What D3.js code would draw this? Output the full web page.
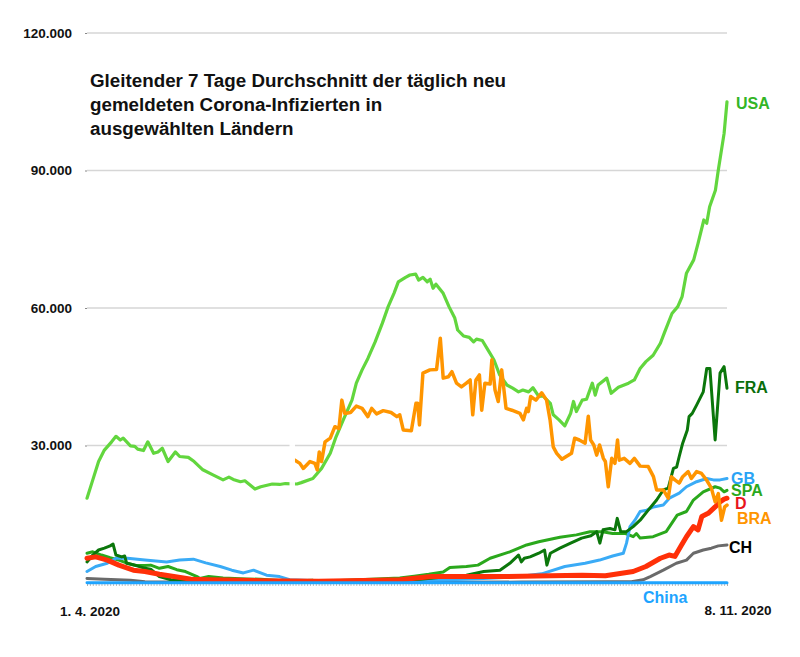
<!DOCTYPE html>
<html><head><meta charset="utf-8">
<script src="https://cdn.jsdelivr.net/npm/d3@7"></script>
<style>
html,body{margin:0;padding:0;background:#fff;}
svg{display:block;font-family:"Liberation Sans",Arial,Helvetica,sans-serif;}
</style></head>
<body><svg id="c" width="800" height="657"></svg>
<script>
// ---- data (day index from 1. 4. 2020, value) ----
const startLabel = "1. 4. 2020";
const endLabel = "8. 11. 2020";
const dayCount = 221;
const yTicks = [30000, 60000, 90000, 120000];
const yTickLabels = ["30.000", "60.000", "90.000", "120.000"];
const titleLines = ["Gleitender 7 Tage Durchschnitt der täglich neu", "gemeldeten Corona-Infizierten in", "ausgewählten Ländern"];

const usa = [[0,18500],[2,22500],[4,26500],[6,29000],[8.5,30800],[10,32000],[11.5,31200],[12.5,31600],[15,29900],[16.5,29800],[17.5,29200],[19.5,28900],[21,30800],[23,28300],[24.5,28600],[26,29400],[28,26500],[30.5,28600],[32,27600],[35,27400],[37,26500],[40,24700],[43.5,23600],[47,22500],[49,23100],[50.5,22600],[53,22100],[54.5,22300],[58,20500],[60,21000],[64,21600],[66.5,21500],[68.5,21700],[72.5,21600],[74,21900],[77,22600],[78,22800],[81,25000],[84,28300],[86,31900],[88.5,35600],[91.5,39900],[93,43600],[95,46500],[97,49000],[99.5,52600],[102,56700],[104,60300],[106,63200],[107.5,65700],[110,66700],[111.5,67200],[113.5,67400],[114.5,66100],[116,66700],[117.5,65700],[118.5,66300],[119.5,64300],[120.5,65200],[123,63200],[125,60300],[127,57800],[128,55200],[130,53900],[132,53600],[133.5,52600],[134.5,53200],[136.5,52900],[138.5,50800],[140.5,48700],[142.5,45400],[145,43200],[147,42500],[149,41700],[150.5,42100],[152.5,41700],[154,42600],[156,40700],[157.5,40800],[160,39200],[161,36700],[163,35600],[165,34300],[167,37000],[168,39600],[169,37400],[171,39900],[172.5,40100],[174.5,43600],[175.5,41000],[176.5,43200],[179.5,44700],[181,41400],[183.5,42700],[187,43600],[189,44300],[191,46800],[193,48300],[195.5,49700],[198,52300],[199.5,54800],[202,58800],[204,60300],[205.5,62500],[207,67600],[209.5,70500],[211,74100],[213,79200],[214,78500],[215,82100],[217,85700],[218,90100],[220,98100],[221,105000]];

const bra = [[71.8,26800],[73.5,26100],[74.7,25000],[77,26500],[78.7,26100],[79.5,24700],[80.2,28600],[81,26500],[82.2,30800],[84,31600],[85.6,34100],[87,33700],[88,39900],[89,37000],[91,37200],[93,38600],[95,38100],[97,36300],[98.3,38100],[100,36900],[102.3,37600],[105,37200],[107,36300],[108,36700],[109.2,33400],[112,33200],[113.6,39200],[114.2,39200],[114.8,34500],[116,45800],[118.4,46500],[120.7,46600],[122,53400],[123,44700],[124.8,45000],[126,46100],[127.6,43600],[129.3,42800],[131,43600],[132.3,44300],[133.2,36700],[134.3,44300],[135.5,45400],[136.3,37700],[137.4,43600],[139.2,43400],[139.8,48700],[140.9,42100],[142,39600],[143.2,46500],[144.7,38100],[146.7,37700],[149.5,37000],[150.7,35600],[151.8,38100],[152.4,37400],[153.2,40700],[155,39900],[157,41500],[158.7,39900],[159.9,35600],[161,29700],[162.2,28300],[164,27000],[165.5,27600],[167.3,28300],[168.4,31600],[170,31200],[172,30500],[173.1,36400],[173.9,31200],[175,30100],[176,27900],[177,30100],[178.3,27200],[179,26500],[180,21000],[181.2,27200],[182.3,26100],[183.2,31200],[183.8,26800],[185.5,27200],[187.5,26100],[189,27200],[191,25500],[193.8,25400],[195.6,23200],[196.7,20300],[199,20300],[200.7,18500],[201.8,23200],[203,22500],[204.5,21800],[205.7,23200],[207.6,24300],[208.7,22800],[210.5,24300],[212.2,23900],[213.9,22500],[215.6,20700],[216.9,17700],[218,19500],[219.1,13700],[220.2,16600],[221,17000]];

const fra = [[0,4600],[2,6100],[4,7200],[6,7600],[8,8100],[9,8500],[10,6100],[12,5700],[13,5900],[13.7,4300],[17,3800],[20,3200],[22,3000],[25,1400],[29,700],[35,600],[45,500],[60,500],[70,400],[78,600],[79,300],[90,400],[105,500],[115,800],[125,1400],[131,1700],[137,2500],[142.6,2800],[146,4300],[149,6100],[150,4600],[151,5400],[153,5700],[156,6500],[158,7200],[158.8,3900],[160,6500],[163.3,7600],[167,8700],[170.8,9800],[174,10300],[176,11200],[177.1,8700],[178.2,11600],[180.6,11900],[182.3,11600],[183.1,14100],[184.3,11200],[186.3,11200],[188.6,12300],[191,13700],[193.8,15900],[196.7,18100],[199,20300],[200.7,20700],[202.5,25000],[203.6,25300],[204.5,27600],[205.7,30500],[207.3,33400],[207.9,36300],[209,37000],[210.5,38800],[212.8,41700],[214,46800],[215.1,46800],[216.9,31200],[218.6,45800],[220,47200],[221,42500]];

const spa = [[0,6500],[2,6800],[5,6100],[8,5500],[11,5000],[14,4300],[17,3800],[20,3800],[22,3900],[25,3200],[28,3600],[31,2900],[34,2500],[38,1400],[39,1000],[42,1400],[47,1100],[55,900],[60,800],[70,400],[80,400],[90,600],[100,900],[108,1100],[113,1500],[118,1900],[123,2400],[125.3,3400],[131,3600],[135,3900],[139.2,5400],[146,6800],[151.8,8300],[156,9000],[163.3,10000],[169,10500],[173.7,11200],[178,11200],[181.5,10800],[186,10800],[188.6,10100],[189.7,10800],[191,9800],[195.5,10100],[200,11200],[203.8,14800],[207,15600],[209.4,18100],[212.8,19900],[216.9,21000],[218.6,20700],[220,19900],[221,20200]];

const deu = [[0,5400],[3,5700],[7,5000],[11,3900],[16,2800],[20,2500],[25,1900],[30,1400],[36,800],[42,700],[60,500],[80,400],[100,600],[108,700],[119,1400],[142,1400],[160,1600],[171,1700],[179,1600],[188.6,2500],[193,3600],[198,5400],[201,6100],[203,5800],[205.3,8300],[207,10100],[209.4,12300],[211,11600],[212.3,14500],[214.5,15200],[216.9,16600],[218.6,17700],[220,18300],[221,18500]];

const gbr = [[0,2500],[3,3600],[7,4300],[10,5400],[14,5400],[20,5000],[27.5,4600],[32,5000],[36.7,5200],[41,4400],[46,3600],[50,2800],[54,2200],[57.5,2800],[62,1700],[66.5,1400],[70,700],[80,500],[100,500],[120,600],[135,900],[144,1200],[150,1500],[157,2000],[165,3600],[172,4300],[177,5000],[181.5,5900],[185.2,6500],[186.3,8700],[187.5,12300],[189.2,13700],[191,15600],[193.3,15900],[195.6,16600],[199,17000],[201.1,18500],[204.5,19600],[207,21000],[210.5,22100],[214,22800],[216.3,22500],[218.6,22500],[221,22800]];

const che = [[0,1000],[6,800],[15,600],[20,300],[30,200],[60,100],[100,100],[150,200],[180,300],[188,300],[192,700],[194.5,1400],[199,2800],[203.5,4300],[207,5000],[209.4,6500],[212.8,7200],[215.6,7600],[218,8100],[221,8300]];

const chn = [[0,80],[40,60],[100,40],[160,60],[221,50]];

// ---- series styling ----
const series = [
  {name:"CH",   data:che, color:"#6a6a6a", width:3},
  {name:"SPA",  data:spa, color:"#2aa81c", width:3},
  {name:"GB",   data:gbr, color:"#3aabf6", width:3},
  {name:"FRA",  data:fra, color:"#0b770b", width:3},
  {name:"D",    data:deu, color:"#ff3008", width:5},
  {name:"USA",  data:usa, color:"#62d63e", width:3.2},
  {name:"BRA",  data:bra, color:"#ff9500", width:3.5},
  {name:"China",data:chn, color:"#1ea4ff", width:3}
];
const labels = [
  {name:"USA",  color:"#33b526", x:736, y:103},
  {name:"FRA",  color:"#0a6e0a", x:735, y:387},
  {name:"GB",   color:"#2aa3f5", x:731, y:478},
  {name:"SPA",  color:"#2aa81c", x:731, y:490.5},
  {name:"D",    color:"#e8141a", x:735, y:503},
  {name:"BRA",  color:"#ff9500", x:737, y:518},
  {name:"CH",   color:"#000000", x:729, y:547.5},
  {name:"China",color:"#1ea4ff", x:643, y:597}
];

// ---- layout ----
const svg = d3.select("#c");
const m = {left:87, right:727, top:33, bottom:583};
const x = d3.scaleLinear().domain([0, dayCount]).range([m.left, m.right]);
const y = d3.scaleLinear().domain([0, 120000]).range([m.bottom, m.top]);

// grid
svg.append("g").selectAll("line").data(yTicks).join("line")
  .attr("x1", m.left).attr("x2", m.right)
  .attr("y1", d => y(d)).attr("y2", d => y(d))
  .attr("stroke", "#d6d6d6").attr("stroke-width", 1.5);

// y axis labels
const ya = svg.append("g").attr("transform", `translate(${m.left},0)`)
  .call(d3.axisLeft(y).tickValues(yTicks).tickSize(2).tickPadding(13)
    .tickFormat((d,i) => yTickLabels[i]));
ya.select(".domain").remove();
ya.selectAll(".tick line").attr("stroke", "#888");
ya.selectAll("text").attr("font-size", 13.5).attr("font-weight", "bold")
  .attr("fill", "#111").attr("font-family", "'Liberation Sans',Arial,sans-serif");

// x axis daily ticks
const xa = svg.append("g").attr("transform", `translate(0,${m.bottom})`)
  .call(d3.axisBottom(x).tickValues(d3.range(0, dayCount + 1)).tickSize(3).tickFormat(""));
xa.select(".domain").attr("stroke", "#bbb");
xa.selectAll(".tick line").attr("stroke", "#aaa").attr("stroke-width", 0.8);

svg.append("text").attr("x", x(0) + 3).attr("y", 611).attr("dy", "0.35em")
  .attr("text-anchor", "middle").attr("font-size", 13.5).attr("font-weight", "bold")
  .attr("fill", "#111").text(startLabel);
svg.append("text").attr("x", x(dayCount) + 11).attr("y", 610.5).attr("dy", "0.35em")
  .attr("text-anchor", "middle").attr("font-size", 13.5).attr("font-weight", "bold")
  .attr("fill", "#111").text(endLabel);

// lines
const line = d3.line().x(d => x(d[0])).y(d => y(d[1])).curve(d3.curveLinear);
svg.append("g").selectAll("path").data(series).join("path")
  .attr("d", d => line(d.data))
  .attr("fill", "none")
  .attr("stroke", d => d.color)
  .attr("stroke-width", d => d.width)
  .attr("stroke-linejoin", "round")
  .attr("stroke-linecap", "round");

// white gap strip seen in the original
svg.append("rect").attr("x", 289.5).attr("y", 420).attr("width", 5.5).attr("height", 158)
  .attr("fill", "#fff").attr("opacity", 0.95);

// series labels
svg.append("g").selectAll("text").data(labels).join("text")
  .attr("x", d => d.x).attr("y", d => d.y).attr("dy", "0.35em")
  .attr("font-size", 16).attr("font-weight", "bold")
  .attr("fill", d => d.color).text(d => d.name);

// title
svg.append("g").selectAll("text").data(titleLines).join("text")
  .attr("x", 90).attr("y", (d,i) => 86.5 + i*24)
  .attr("font-size", 18.8).attr("font-weight", "bold").attr("fill", "#111")
  .text(d => d);
</script>
</body></html>
